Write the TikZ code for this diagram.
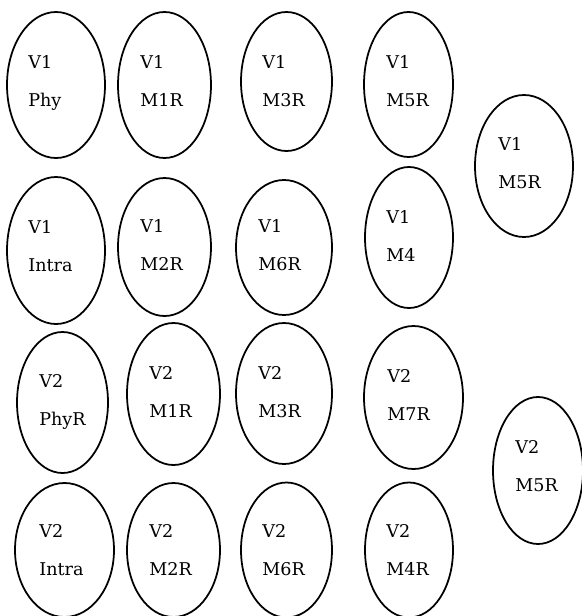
\documentclass[tikz,border=0pt]{standalone}
\usepackage{fontspec}
\setmainfont{DejaVu Serif}
\usetikzlibrary{shapes.geometric}
\tikzset{
  blob/.style={ellipse,draw=black,line width=1pt,inner sep=0pt,
    minimum width=18.6mm,minimum height=28.4mm},
  txt/.style={anchor=north west,inner sep=0pt,align=left,
    font=\fontsize{10pt}{21.5pt}\selectfont},
}
\begin{document}
\begin{tikzpicture}
\useasboundingbox (0,0) rectangle (11.64,-12.32);
\clip (0,0) rectangle (11.64,-12.32);

% =====================================================================
%  ROW 1 — V1
% =====================================================================
\node[blob,minimum width=19.6mm,minimum height=29.2mm] (v1phy) at (1.12,-1.70) {};
\node[blob,minimum height=29.2mm] (v1m1r) at (3.29,-1.70) {};
\node[blob,minimum width=18.2mm,minimum height=27.8mm] (v1m3r) at (5.73,-1.63) {};
\node[blob,minimum width=17.8mm,minimum height=29.0mm] (v1m5r) at (8.17,-1.69) {};
\node[blob,minimum width=19.6mm] (v1m5rb) at (10.48,-3.32) {};

\node[txt] (tv1phy)  at (0.56,-1.10) {V1\\Phy};
\node[txt] (tv1m1r)  at (2.80,-1.10) {V1\\M1R};
\node[txt] (tv1m3r)  at (5.24,-1.10) {V1\\M3R};
\node[txt] (tv1m5r)  at (7.72,-1.10) {V1\\M5R};
\node[txt] (tv1m5rb) at (9.96,-2.74) {V1\\M5R};

% =====================================================================
%  ROW 2 — V1
% =====================================================================
\node[blob,minimum width=19.6mm,minimum height=29.4mm] (v1intra) at (1.12,-5.01) {};
\node[blob,minimum height=27.6mm] (v1m2r) at (3.29,-4.94) {};
\node[blob,minimum width=19.2mm,minimum height=27.0mm] (v1m6r) at (5.68,-4.95) {};
\node[blob,minimum width=17.6mm,minimum height=28.2mm] (v1m4) at (8.18,-4.75) {};

\node[txt] (tv1intra) at (0.56,-4.40) {V1\\Intra};
\node[txt] (tv1m2r)   at (2.80,-4.38) {V1\\M2R};
\node[txt] (tv1m6r)   at (5.16,-4.38) {V1\\M6R};
\node[txt] (tv1m4)    at (7.72,-4.20) {V1\\M4};

% =====================================================================
%  ROW 3 — V2
% =====================================================================
\node[blob,minimum width=18.2mm,minimum height=28.2mm] (v2phyr) at (1.25,-8.05) {};
\node[blob] (v2m1r) at (3.47,-7.88) {};
\node[blob,minimum width=19.2mm,minimum height=28.2mm] (v2m3r) at (5.68,-7.87) {};
\node[blob,minimum width=19.8mm,minimum height=28.6mm] (v2m7r) at (8.27,-7.95) {};
\node[blob,minimum width=18.0mm,minimum height=29.4mm] (v2m5r) at (10.76,-9.41) {};

\node[txt] (tv2phyr) at (0.78,-7.48) {V2\\PhyR};
\node[txt] (tv2m1r)  at (2.98,-7.32) {V2\\M1R};
\node[txt] (tv2m3r)  at (5.16,-7.32) {V2\\M3R};
\node[txt] (tv2m7r)  at (7.74,-7.38) {V2\\M7R};
\node[txt] (tv2m5r)  at (10.30,-8.80) {V2\\M5R};

% =====================================================================
%  ROW 4 — V2 (cut by the lower edge)
% =====================================================================
\node[blob,minimum width=19.8mm,minimum height=26.8mm] (v2intra) at (1.29,-11.00) {};
\node[blob,minimum height=26.8mm] (v2m2r) at (3.47,-11.00) {};
\node[blob,minimum width=18.2mm,minimum height=27.0mm] (v2m6r) at (5.73,-11.00) {};
\node[blob,minimum width=17.6mm,minimum height=27.0mm] (v2m4r) at (8.18,-11.00) {};

\node[txt] (tv2intra) at (0.78,-10.48) {V2\\Intra};
\node[txt] (tv2m2r)   at (2.98,-10.48) {V2\\M2R};
\node[txt] (tv2m6r)   at (5.24,-10.48) {V2\\M6R};
\node[txt] (tv2m4r)   at (7.72,-10.48) {V2\\M4R};

\end{tikzpicture}
\end{document}
